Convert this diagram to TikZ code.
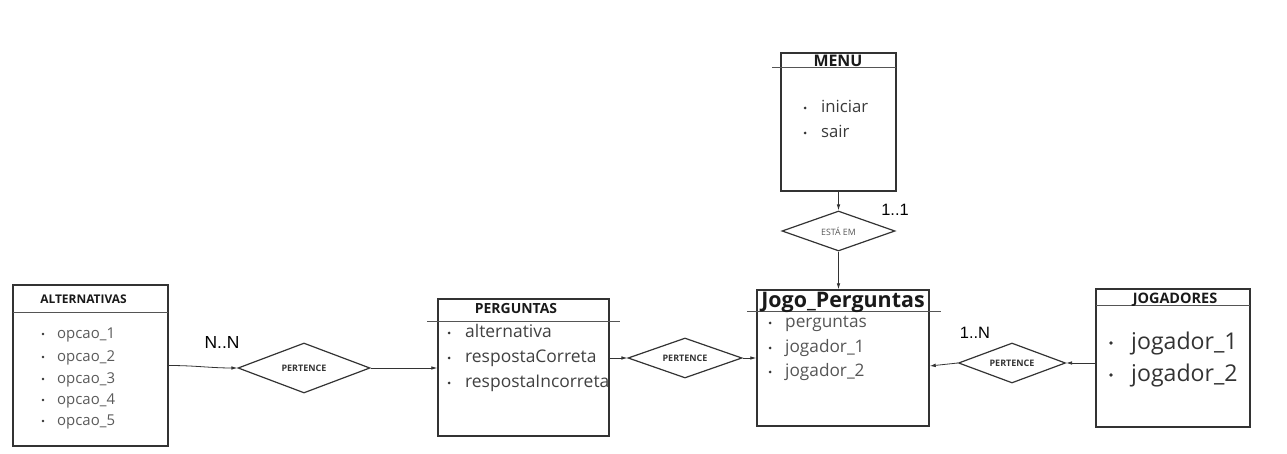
\documentclass[tikz,border=0pt]{standalone}
\usepackage{fontspec}
\setmainfont{Open Sans}
\newfontfamily\labfont{Liberation Sans}
\usetikzlibrary{shapes.geometric,arrows.meta,calc}
\definecolor{linec}{HTML}{333333}
\definecolor{altc}{HTML}{5A5A5A}
\definecolor{pergc}{HTML}{404040}
\definecolor{menuc}{HTML}{3A3A3A}
\definecolor{jogoc}{HTML}{555555}
\definecolor{jgdc}{HTML}{333333}
\definecolor{headc}{HTML}{555555}
\newcommand{\fs}[1]{\fontsize{#1}{#1}\selectfont}
\begin{document}
\begin{tikzpicture}[x=1bp,y=-1bp,
  box/.style={draw=linec, line width=1.4bp, inner sep=0pt},
  rel/.style={diamond, draw=linec, line width=1.2bp, inner sep=0pt, aspect=2.6, font=\fs{9}\bfseries, text=linec},
  conn/.style={draw=linec, line width=0.8bp, -{Latex[length=6bp,width=3.6bp]}},
  head/.style={draw=headc, line width=1bp},
  item/.style={anchor=base west, inner sep=0pt, font=\fs{#1}, yshift=-0.27*#1 bp},
  ttl/.style={inner sep=0pt, text=black!90},
  lab/.style={inner sep=0pt, font=\labfont\fs{16.5}, text=black},
  dot/.style={fill=linec}
]
\useasboundingbox (0,0) rectangle (1287,454);

% boxes
\node[box, minimum width=155bp, minimum height=161bp] (alt) at (90.5,365.5) {};
\node[box, minimum width=171bp, minimum height=137bp] (perg) at (523.5,367.5) {};
\node[box, minimum width=115bp, minimum height=138bp] (menu) at (838.5,122) {};
\node[box, minimum width=172bp, minimum height=136bp] (jogo) at (843,358) {};
\node[box, minimum width=154bp, minimum height=138bp] (jgd) at (1173,358) {};

% header lines
\draw[head] (13,313) -- (168,313);
\draw[head] (427,322) -- (620,322);
\draw[head] (772,68) -- (896,68);
\draw[head] (747,312) -- (941,312);
\draw[head] (1096,306) -- (1250,306);

% titles
\node[ttl, font=\fs{12}\bfseries] (altT) at (83.5,299) {ALTERNATIVAS};
\node[ttl, font=\fs{14}\bfseries] (pergT) at (516,309) {PERGUNTAS};
\node[ttl, font=\fs{16}\bfseries] (menuT) at (838,61) {MENU};
\node[ttl, font=\fs{21.5}\bfseries] (jogoT) at (843,302) {Jogo\_Perguntas};
\node[ttl, font=\fs{14.5}\bfseries] (jgdT) at (1175,300) {JOGADORES};

% items ALTERNATIVAS
\foreach \t/\y [count=\i] in {opcao\_1/334,opcao\_2/357,opcao\_3/379,opcao\_4/400,opcao\_5/421}{
  \fill[dot] (43,\y) circle (1.3bp);
  \node[item=15, text=altc] (alt\i) at (57,\y) {\t};
}
% items PERGUNTAS
\foreach \t/\y [count=\i] in {alternativa/333,respostaCorreta/358,respostaIncorreta/383}{
  \fill[dot] (449,\y) circle (1.5bp);
  \node[item=17.5, text=pergc] (perg\i) at (465,\y) {\t};
}
% items MENU
\foreach \t/\y [count=\i] in {iniciar/108,sair/133}{
  \fill[dot] (805,\y) circle (1.5bp);
  \node[item=16.8, text=menuc] (menu\i) at (821,\y) {\t};
}
% items Jogo
\foreach \t/\y [count=\i] in {perguntas/323,jogador\_1/348,jogador\_2/372}{
  \fill[dot] (770,\y) circle (1.5bp);
  \node[item=17.3, text=jogoc] (jogo\i) at (785,\y) {\t};
}
% items JOGADORES
\foreach \t/\y [count=\i] in {jogador\_1/343,jogador\_2/375}{
  \fill[dot] (1111,\y) circle (1.9bp);
  \node[item=23.2, text=jgdc] (jgd\i) at (1131,\y) {\t};
}

% relationships
\node[rel, minimum width=132bp, minimum height=50bp] (d1) at (304,368) {PERTENCE};
\node[rel, minimum width=114bp, minimum height=40bp] (d2) at (685,358) {PERTENCE};
\node[rel, minimum width=113bp, minimum height=40bp, font=\fs{8.8}, text=jogoc] (desta) at (838.5,231) {ESTÁ EM};
\node[rel, minimum width=107bp, minimum height=40bp] (d3) at (1012,363) {PERTENCE};

% connectors
\draw[conn] (alt.east) to[out=0,in=180] (d1.west);
\draw[conn] (d1.east) -- (d1.east -| perg.west);
\draw[conn] (perg.east |- d2.west) -- (d2.west);
\draw[conn] (d2.east) -- (d2.east -| jogo.west);
\draw[conn] (menu.south) -- (desta.north);
\draw[conn] (desta.south) -- (desta.south |- jogo.north);
\draw[conn] (jgd.west |- d3.east) -- (d3.east);
\draw[conn] (d3.west) -- ($(jogo.east)+(0,8)$);

% cardinality labels
\node[lab, font=\labfont\fs{17.5}] (nn) at (222,343) {N..N};
\node[lab] (oo) at (895,210) {1..1};
\node[lab] (on) at (975,333) {1..N};
\end{tikzpicture}
\end{document}
